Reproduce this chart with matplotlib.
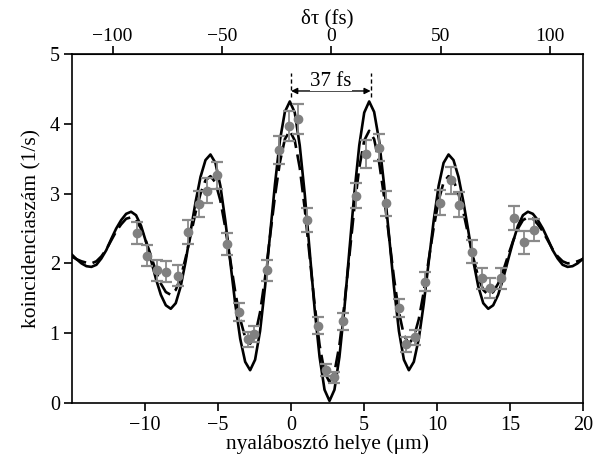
import matplotlib
matplotlib.use("Agg")
import matplotlib.pyplot as plt
import numpy as np

plt.rcParams["font.family"] = ["Liberation Serif", "DejaVu Serif"]
plt.rcParams["font.size"] = 14

# measured coincidence counts (1/s) vs beam splitter position (um)
pos_um = [-10.59, -9.86, -9.20, -8.60, -7.76, -7.05, -6.32, -5.75, -5.05, -4.37,
          -3.56, -2.99, -2.53, -1.65, -0.81, -0.14, 0.48, 1.10, 1.85, 2.42,
          2.94, 3.56, 4.43, 5.16, 5.99, 6.53, 7.36, 7.86, 8.47, 9.21,
          10.18, 10.94, 11.49, 12.43, 13.11, 13.61, 14.36, 15.27, 15.96, 16.64]
counts = [2.44, 2.11, 1.90, 1.88, 1.82, 2.45, 2.85, 3.04, 3.26, 2.28,
          1.30, 0.91, 0.99, 1.90, 3.63, 3.97, 4.07, 2.62, 1.11, 0.47,
          0.37, 1.17, 2.97, 3.57, 3.66, 2.86, 1.36, 0.84, 0.94, 1.74,
          2.87, 3.19, 2.84, 2.17, 1.79, 1.65, 1.79, 2.65, 2.30, 2.48]
count_err = [0.16, 0.15, 0.15, 0.15, 0.15, 0.17, 0.18, 0.18, 0.19, 0.16,
             0.13, 0.11, 0.11, 0.15, 0.20, 0.21, 0.22, 0.17, 0.12, 0.09,
             0.08, 0.12, 0.18, 0.20, 0.20, 0.18, 0.13, 0.11, 0.11, 0.14,
             0.18, 0.19, 0.18, 0.16, 0.15, 0.14, 0.15, 0.17, 0.16, 0.16]

# theory curves, sampled every 0.34 um around the centre of the dip
curve_x = np.round(2.63 + 0.34 * np.arange(-52, 53), 3)
theory_solid = [
    2.13, 2.06, 2.00, 1.96, 1.95, 1.98, 2.07, 2.19, 2.35, 2.50, 2.62, 2.71, 2.74,
    2.69, 2.54, 2.31, 2.05, 1.78, 1.55, 1.40, 1.35, 1.43, 1.67, 2.03, 2.46, 2.88,
    3.24, 3.48, 3.56, 3.44, 3.11, 2.61, 2.02, 1.42, 0.92, 0.59, 0.47, 0.62, 1.03,
    1.66, 2.40, 3.13, 3.76, 4.17, 4.32, 4.16, 3.69, 3.00, 2.18, 1.35, 0.66, 0.19,
    0.03,
    0.19, 0.66, 1.35, 2.18, 3.00, 3.69, 4.16, 4.32, 4.17, 3.76, 3.13, 2.40, 1.66,
    1.03, 0.62, 0.47, 0.59, 0.92, 1.42, 2.02, 2.61, 3.11, 3.44, 3.56, 3.48, 3.24,
    2.88, 2.46, 2.03, 1.67, 1.43, 1.35, 1.40, 1.55, 1.78, 2.05, 2.31, 2.54, 2.69,
    2.74, 2.71, 2.62, 2.50, 2.35, 2.19, 2.07, 1.98, 1.95, 1.96, 2.00, 2.06, 2.13,
]
theory_dashed = [
    2.10, 2.06, 2.03, 2.01, 2.00, 2.03, 2.10, 2.20, 2.33, 2.46, 2.56, 2.64, 2.66,
    2.62, 2.50, 2.32, 2.11, 1.89, 1.71, 1.59, 1.55, 1.62, 1.80, 2.08, 2.40, 2.73,
    3.00, 3.19, 3.25, 3.16, 2.90, 2.51, 2.05, 1.59, 1.20, 0.94, 0.85, 0.97, 1.30,
    1.79, 2.38, 2.96, 3.45, 3.78, 3.90, 3.76, 3.37, 2.79, 2.10, 1.41, 0.83, 0.44,
    0.30,
    0.44, 0.83, 1.41, 2.10, 2.79, 3.37, 3.76, 3.90, 3.78, 3.45, 2.96, 2.38, 1.79,
    1.30, 0.97, 0.85, 0.94, 1.20, 1.59, 2.05, 2.51, 2.90, 3.16, 3.25, 3.19, 3.00,
    2.73, 2.40, 2.08, 1.80, 1.62, 1.55, 1.59, 1.71, 1.89, 2.11, 2.32, 2.50, 2.62,
    2.66, 2.64, 2.56, 2.46, 2.33, 2.20, 2.10, 2.03, 2.00, 2.01, 2.03, 2.06, 2.10,
]

x_ticks = [-10, -5, 0, 5, 10, 15, 20]
y_ticks = [0, 1, 2, 3, 4, 5]
fs_ticks = [-100, -50, 0, 50, 100]

# delay axis: 1 um of beam splitter travel = 6.67 fs, zero at 2.75 um
FS_PER_UM = 6.67
X_ZERO = 2.75

# marker for the 37 fs peak spacing
peak_left, peak_right = 0.0, 5.45


def to_fs(x):
    return (x - X_ZERO) * FS_PER_UM


def to_um(t):
    return t / FS_PER_UM + X_ZERO


fig = plt.figure(figsize=(6.0, 4.61), dpi=100)
ax = fig.add_axes([0.1205, 0.1258, 0.851, 0.7571])

ax.plot(curve_x, theory_solid, color="black", lw=1.9, zorder=2)
ax.plot(curve_x, theory_dashed, color="black", lw=1.9, ls=(0, (6, 2.5)), zorder=2)
ax.errorbar(pos_um, counts, yerr=count_err, fmt="o", color="#808080",
            ms=6, ecolor="#8a8a8a", elinewidth=1.3, capsize=4.6, capthick=1.6,
            zorder=3)

# 37 fs annotation
for xv in (peak_left, peak_right):
    ax.plot([xv, xv], [4.38, 4.73], color="black", lw=1.0, ls=(0, (3, 2)))
ax.annotate("", xy=(peak_left, 4.47), xytext=(peak_right, 4.47),
            arrowprops=dict(arrowstyle="<|-|>", color="black", lw=1.0,
                            mutation_scale=9, shrinkA=0, shrinkB=0))
ax.text((peak_left + peak_right) / 2, 4.61, "37 fs", ha="center", va="center",
        fontsize=15, bbox=dict(fc="white", ec="none", pad=0.5))

ax.set_xlim(-15, 20)
ax.set_ylim(0, 5)
ax.set_xticks(x_ticks)
ax.set_yticks(y_ticks)
ax.set_xlabel("nyalábosztó helye (μm)", fontsize=15.5, labelpad=0)
ax.set_ylabel("koincidenciaszám (1/s)", fontsize=15.5, labelpad=6)
ax.tick_params(direction="out", length=6, width=1.2, labelsize=14.5, pad=3)
ax.tick_params(axis="y", right=False)
for sp in ax.spines.values():
    sp.set_linewidth(1.2)

top = ax.secondary_xaxis("top", functions=(to_fs, to_um))
top.set_xticks(fs_ticks)
top.tick_params(direction="out", length=6, width=1.2, labelsize=14, pad=0.5)
top.set_xlabel("δτ (fs)", fontsize=15, labelpad=3)

fig.savefig("out.png", dpi=100)
